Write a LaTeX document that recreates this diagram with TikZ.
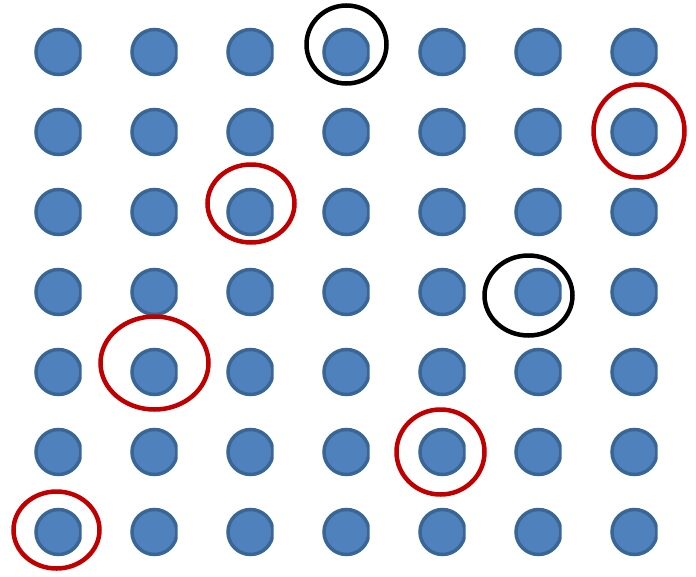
\documentclass[tikz,border=0pt]{standalone}
\definecolor{dotfill}{HTML}{4F81BD}
\definecolor{dotedge}{HTML}{3A6696}
\definecolor{ringred}{HTML}{C00000}
\tikzset{
  dotstyle/.style={fill=dotfill, draw=dotedge, line width=3.5pt},
  blackring/.style={draw=black, line width=4.5pt},
  redring/.style={draw=ringred, line width=4.5pt}
}
\begin{document}
\begin{tikzpicture}[x=1pt,y=-1pt]
\useasboundingbox (0,0) rectangle (696,576);
\foreach \i in {0,...,6}{
  \foreach \j in {0,...,6}{
    \pgfmathsetmacro{\cx}{58.5+96*\i}
    \pgfmathsetmacro{\cy}{52+80*\j}
    \begin{scope}
      \clip (\cx-30,\cy-30) rectangle (\cx+23,\cy+30);
      \path[dotstyle] (\cx,\cy) circle[radius=22.5];
    \end{scope}
  }
}
\draw[blackring] (346.5,44.5) ellipse[x radius=40, y radius=39];
\draw[blackring] (528.5,295.5) ellipse[x radius=44, y radius=40];
\draw[redring] (639,131) ellipse[x radius=45.5, y radius=46.5];
\draw[redring] (251,203.5) ellipse[x radius=43.5, y radius=39];
\draw[redring] (154.5,363) ellipse[x radius=54, y radius=46.5];
\draw[redring] (440.5,452) ellipse[x radius=44, y radius=42.5];
\draw[redring] (56.5,530) ellipse[x radius=43, y radius=38.5];
\end{tikzpicture}
\end{document}
